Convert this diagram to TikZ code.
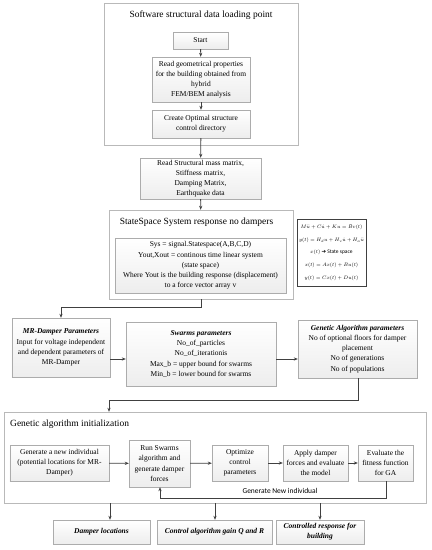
\documentclass[tikz,border=0pt]{standalone}
\usepackage{fontspec}
\usepackage{graphicx}
\setmainfont{Liberation Serif}
\newfontfamily\calib{Carlito}
\newfontfamily\djv{DejaVu Sans}
\usetikzlibrary{arrows.meta,shadows}
\newcommand{\eqln}[1]{\scalebox{0.72}{$#1$}}
\begin{document}
\begin{tikzpicture}[x=1bp,y=-1bp,
  txt/.style={font=\fontsize{7.5}{10.2}\selectfont, align=center},
  box/.style={txt, draw=gray!65, top color=white, bottom color=gray!14, inner sep=1bp,
     drop shadow={opacity=0.25, shadow xshift=1.2bp, shadow yshift=-1.2bp}},
  bigbox/.style={draw=gray!55, fill=white, inner sep=0pt,
     drop shadow={opacity=0.2, shadow xshift=1.2bp, shadow yshift=-1.2bp}},
  eqbox/.style={draw=black!75, line width=0.8bp, fill=white, inner sep=0pt},
  ttl/.style={font=\fontsize{9.5}{11}\selectfont, inner sep=0pt},
  arr/.style={-{Stealth[length=4bp,width=3.2bp]}, draw=black!75, line width=0.8bp},
  ln/.style={draw=black!75, line width=0.8bp}]
\useasboundingbox (0,0) rectangle (431,550);
% top outer box
\node[bigbox, minimum width=194bp, minimum height=142bp] (outer1) at (201,74) {};
\node[ttl] (t1) at (201,15) {Software structural data loading point};
\node[box, minimum width=55bp, minimum height=17bp] (start) at (200.5,40.5) {Start};
\node[box, minimum width=98bp, minimum height=45bp] (geo) at (201,79.5) {Read geometrical properties\\for the building obtained from\\hybrid\\FEM/BEM analysis};
\node[box, minimum width=98bp, minimum height=28bp] (create) at (201,124) {Create Optimal structure\\control directory};
\node[box, minimum width=121bp, minimum height=41bp] (reads) at (200.5,178.5) {Read Structural mass matrix,\\Stiffness matrix,\\Damping Matrix,\\Earthquake data};
% state space
\node[bigbox, minimum width=184bp, minimum height=89bp] (ss) at (201,254.5) {};
\node[ttl] (t2) at (196.5,222) {StateSpace System response no dampers};
\node[box, minimum width=171bp, minimum height=55bp] (ssin) at (200.5,265.5) {Sys = signal.Statespace(A,B,C,D)\\Yout,Xout = continous time linear system\\(state space)\\Where Yout is the building response (displacement)\\to a force vector array v};
\node[eqbox, minimum width=69bp, minimum height=67bp, font=\fontsize{7}{12.6}\selectfont, align=center] (eq) at (331.5,252.5)
 {\eqln{M\ddot{u}+C\dot{u}+Ku=\bar{B}v(t)}\\
  \eqln{y(t)=H_d u+H_v\dot{u}+H_a\ddot{u}}\\
  \eqln{x(t)}\,{\djv\fontsize{5.5}{6}\selectfont\char"2794}\,{\calib\fontsize{5.5}{6}\selectfont State space}\\
  \eqln{x(t)=Ax(t)+Bu(t)}\\
  \eqln{y(t)=Cx(t)+Du(t)}};
% parameter boxes
\node[box, minimum width=98bp, minimum height=59bp] (mr) at (61,347.5) {\textbf{\textit{MR-Damper Parameters}}\\Input for voltage independent\\and dependent parameters of\\MR-Damper};
\node[box, minimum width=150bp, minimum height=64bp] (sw) at (201,354) {\textbf{\textit{Swarms parameters}}\\No\_of\_particles\\No\_of\_iterationis\\Max\_b = upper bound for swarms\\Min\_b = lower bound for swarms};
\node[box, minimum width=119bp, minimum height=58bp] (ga) at (357.5,349) {\textbf{\textit{Genetic Algorithm parameters}}\\No of optional floors for damper\\placement\\No of generations\\No of populations};
% GA init
\node[bigbox, minimum width=422bp, minimum height=91bp] (gi) at (215,457.5) {};
\node[ttl, anchor=west] (t3) at (10,424) {Genetic algorithm initialization};
\node[box, minimum width=99bp, minimum height=36bp] (b1) at (59.5,463) {Generate a new individual\\(potential locations for MR-\\Damper)};
\node[box, minimum width=61bp, minimum height=47bp] (b2) at (159.5,463.5) {Run Swarms\\algorithm and\\generate damper\\forces};
\node[box, minimum width=56bp, minimum height=36bp] (b3) at (240,463) {Optimize\\control\\parameters};
\node[box, minimum width=65bp, minimum height=36bp] (b4) at (315.5,463) {Apply damper\\forces and evaluate\\the model};
\node[box, minimum width=55bp, minimum height=36bp] (b5) at (385.5,463) {Evaluate the\\fitness function\\for GA};
\node[font=\calib\fontsize{7.5}{9}\selectfont, inner sep=0pt] (lbl) at (280,491) {Generate New individual};
% outputs
\node[box, minimum width=97bp, minimum height=24bp] (o1) at (101.5,532) {\textbf{\textit{Damper locations}}};
\node[box, minimum width=115bp, minimum height=24bp] (o2) at (214.5,532) {\textbf{\textit{Control algorithm gain Q and R}}};
\node[box, minimum width=88bp, minimum height=24bp] (o3) at (320,532) {\textbf{\textit{Controlled response for}}\\\textbf{\textit{building}}};
% coordinates
\coordinate (c1) at (201,307);
\coordinate (c2) at (61,307);
\coordinate (ya) at (0,359);
\coordinate (c3) at (358,400);
\coordinate (c4) at (109,400);
\coordinate (c5) at (386,498);
\coordinate (c6) at (160,498);
\coordinate (x1) at (110,0);
\coordinate (x2) at (215,0);
\coordinate (x3) at (320,0);
% connectors
\draw[arr] (start) -- (geo);
\draw[arr] (geo) -- (create);
\draw[arr] (create) -- (reads);
\draw[arr] (reads) -- (ss);
\draw[arr] (ss.south) -- (c1) -- (c2) -- (mr.north);
\draw[arr] (mr.east|-ya) -- (sw.west|-ya);
\draw[arr] (sw.east|-ya) -- (ga.west|-ya);
\draw[arr] (ga.south-|c3) -- (c3) -- (c4) -- (gi.north-|c4);
\draw[arr] (b1) -- (b2);
\draw[arr] (b2) -- (b3);
\draw[arr] (b3) -- (b4);
\draw[arr] (b4) -- (b5);
\draw[arr] (b5.south-|c5) -- (c5) -- (c6) -- (b2.south-|c6);
\draw[arr] (gi.south-|x1) -- (o1.north-|x1);
\draw[arr] (gi.south-|x2) -- (o2.north-|x2);
\draw[arr] (gi.south-|x3) -- (o3.north-|x3);
\end{tikzpicture}
\end{document}
